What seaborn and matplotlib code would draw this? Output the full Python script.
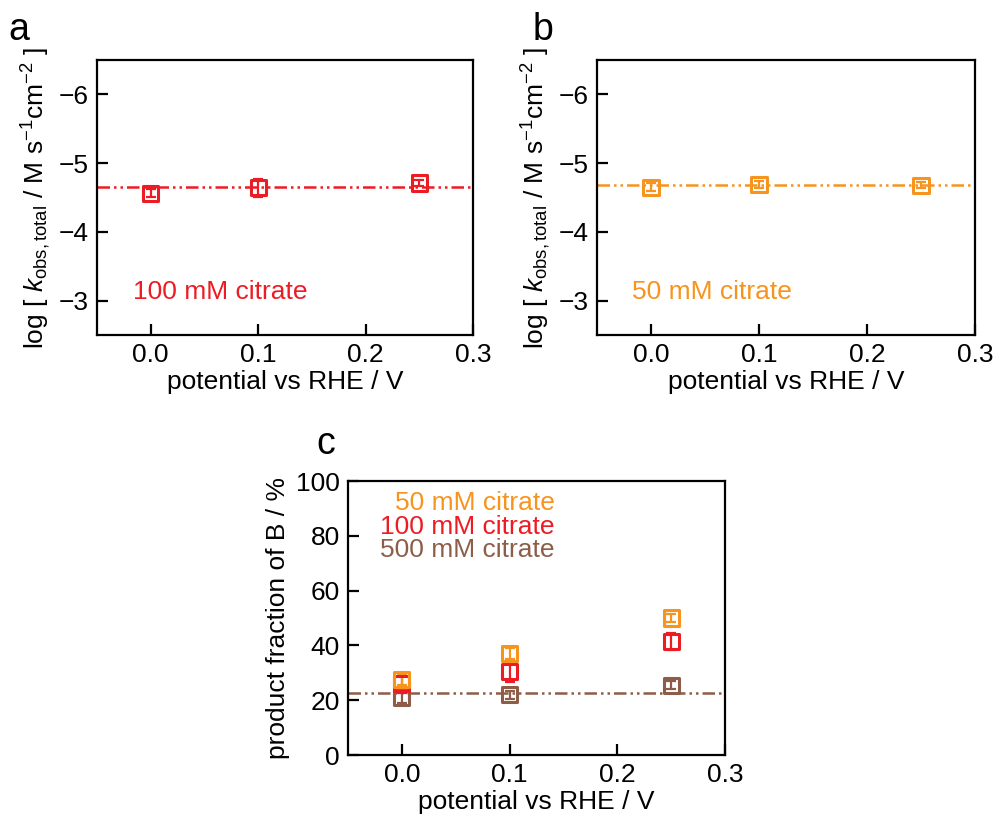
import numpy as np
import pandas as pd
import seaborn as sns
import matplotlib.pyplot as plt

# ---------- data ----------
potential = [0.0, 0.1, 0.25]

logk_100 = [-4.56, -4.64, -4.71]
logk_100_err = [0.06, 0.13, 0.05]
logk_100_fit = -4.65

logk_50 = [-4.65, -4.69, -4.68]
logk_50_err = [0.06, 0.05, 0.04]
logk_50_fit = -4.68

frac_50 = [27.5, 37.0, 50.0]
frac_50_err = [2.0, 2.0, 1.5]
frac_100 = [26.0, 30.5, 41.5]
frac_100_err = [3.5, 4.0, 3.0]
frac_500 = [21.0, 22.0, 25.5]
frac_500_err = [2.0, 1.5, 1.5]
frac_500_fit = 22.5

RED = "#ED1C24"
ORANGE = "#F7941D"
BROWN = "#8E5D48"

sns.set_theme(style="ticks")
plt.rcParams["font.family"] = ["Liberation Sans", "DejaVu Sans"]
plt.rcParams["mathtext.fontset"] = "custom"
plt.rcParams["mathtext.rm"] = "Liberation Sans"
plt.rcParams["mathtext.it"] = "Liberation Sans:italic"
plt.rcParams["axes.linewidth"] = 1.6
plt.rcParams["axes.edgecolor"] = "black"
plt.rcParams["text.color"] = "black"
plt.rcParams["axes.labelcolor"] = "black"

DASH = (5, 1.6, 1, 1.6, 1, 1.6)
FS = 19


def style_axes(ax):
    ax.tick_params(axis="both", direction="in", length=8, width=1.6,
                   labelsize=FS, colors="black", pad=6, top=False, right=False)
    ax.set_xlim(-0.05, 0.3)
    ax.set_xticks([0.0, 0.1, 0.2, 0.3])
    ax.set_xticklabels(["0.0", "0.1", "0.2", "0.3"])
    ax.set_xlabel("potential vs RHE / V", fontsize=FS, labelpad=2)


def draw_series(ax, y, yerr, color):
    df = pd.DataFrame({"potential": potential, "y": y})
    ax.errorbar(potential, y, yerr=yerr, fmt="none", ecolor=color,
                elinewidth=1.6, capsize=3.5, capthick=1.6, zorder=3)
    sns.scatterplot(data=df, x="potential", y="y", ax=ax, marker="s", s=120,
                    facecolor="none", edgecolor=color, linewidth=2.2, zorder=4,
                    legend=False)


fig = plt.figure(figsize=(9.96, 8.22), dpi=100)
ax_a = fig.add_axes([0.0974, 0.5925, 0.3775, 0.3345])
ax_b = fig.add_axes([0.5994, 0.5925, 0.3795, 0.3345])
ax_c = fig.add_axes([0.3494, 0.0815, 0.3785, 0.3333])

ylab_k = r"log [ $k_{\mathrm{obs,total}}$ / M s$^{-1}$cm$^{-2}$ ]"

# ---------- panel a ----------
ax_a.axhline(logk_100_fit, color=RED, lw=1.8, dashes=DASH, zorder=2)
draw_series(ax_a, logk_100, logk_100_err, RED)
style_axes(ax_a)
ax_a.set_ylim(-2.5, -6.5)
ax_a.set_yticks([-6, -5, -4, -3])
ax_a.set_yticklabels(["\u22126", "\u22125", "\u22124", "\u22123"])
ax_a.set_ylabel(ylab_k, fontsize=FS, labelpad=4)
ax_a.text(-0.0165, -3.12, "100 mM citrate", color=RED, fontsize=FS, va="center")

# ---------- panel b ----------
ax_b.axhline(logk_50_fit, color=ORANGE, lw=1.8, dashes=DASH, zorder=2)
draw_series(ax_b, logk_50, logk_50_err, ORANGE)
style_axes(ax_b)
ax_b.set_ylim(-2.5, -6.5)
ax_b.set_yticks([-6, -5, -4, -3])
ax_b.set_yticklabels(["\u22126", "\u22125", "\u22124", "\u22123"])
ax_b.set_ylabel(ylab_k, fontsize=FS, labelpad=4)
ax_b.text(-0.0175, -3.12, "50 mM citrate", color=ORANGE, fontsize=FS, va="center")

# ---------- panel c ----------
ax_c.axhline(frac_500_fit, color=BROWN, lw=1.8, dashes=DASH, zorder=2)
draw_series(ax_c, frac_500, frac_500_err, BROWN)
draw_series(ax_c, frac_100, frac_100_err, RED)
draw_series(ax_c, frac_50, frac_50_err, ORANGE)
style_axes(ax_c)
ax_c.set_ylim(0, 100)
ax_c.set_yticks([0, 20, 40, 60, 80, 100])
ax_c.set_ylabel("product fraction of B / %", fontsize=FS, labelpad=4)
ax_c.text(0.142, 92, "50 mM citrate", color=ORANGE, fontsize=FS, ha="right", va="center")
ax_c.text(0.142, 83.2, "100 mM citrate", color=RED, fontsize=FS, ha="right", va="center")
ax_c.text(0.142, 74.8, "500 mM citrate", color=BROWN, fontsize=FS, ha="right", va="center")

# ---------- panel letters ----------
fig.text(0.008, 0.986, "a", fontsize=27, va="top")
fig.text(0.535, 0.986, "b", fontsize=27, va="top")
fig.text(0.318, 0.482, "c", fontsize=27, va="top")

fig.savefig("out.png", dpi=100)
